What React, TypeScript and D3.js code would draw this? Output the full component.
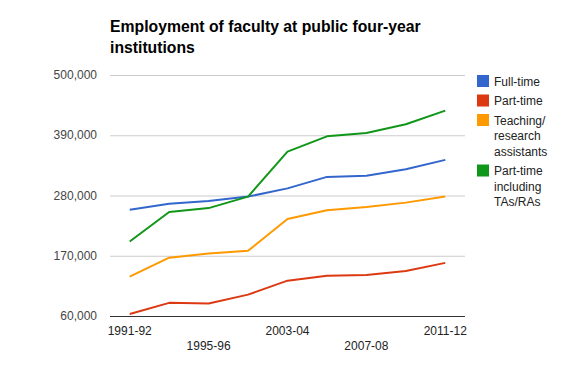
import React, { useEffect, useRef } from 'react';
import * as d3 from 'd3';

const years = ['1991-92', '1993-94', '1995-96', '1999-00', '2003-04', '2005-06', '2007-08', '2009-10', '2011-12'];
const fullTime = [254000, 265000, 270000, 278000, 293000, 314000, 316000, 328000, 345000];
const partTime = [63500, 84000, 83000, 99000, 124500, 133500, 135000, 142000, 157000];
const assistants = [132000, 166500, 174000, 179000, 237000, 253000, 259000, 267000, 278000];
const partTimeTAs = [196000, 250000, 257000, 278000, 360000, 388000, 394000, 410000, 435000];
const yTicks = [60000, 170000, 280000, 390000, 500000];
const shownYears = ['1991-92', '1995-96', '2003-04', '2007-08', '2011-12'];

const series = [
  { name: ['Full-time'], values: fullTime, color: '#3366cc' },
  { name: ['Part-time'], values: partTime, color: '#dc3912' },
  { name: ['Teaching/', 'research', 'assistants'], values: assistants, color: '#ff9900' },
  { name: ['Part-time', 'including', 'TAs/RAs'], values: partTimeTAs, color: '#109618' },
];

const font = '"Liberation Sans", Arial, sans-serif';

const App = () => {
  const svgRef = useRef(null);

  useEffect(() => {
    const svg = d3.select(svgRef.current);
    svg.selectAll('*').remove();

    const width = 575;
    const height = 392;
    const plot = { left: 110, right: 465, top: 75, bottom: 316 };

    svg.append('rect').attr('width', width).attr('height', height).attr('fill', '#fff');

    const x = d3.scaleBand().domain(years).range([plot.left, plot.right]);
    const cx = (d) => x(d) + x.bandwidth() / 2;
    const y = d3.scaleLinear().domain([60000, 500000]).range([plot.bottom, plot.top]);

    // title
    const title = svg.append('text')
      .attr('x', 110)
      .attr('font-family', font)
      .attr('font-size', '15.75px')
      .attr('font-weight', 'bold')
      .attr('fill', '#000');
    title.append('tspan').attr('x', 110).attr('y', 32).text('Employment of faculty at public four-year');
    title.append('tspan').attr('x', 110).attr('y', 53).text('institutions');

    // gridlines
    svg.append('g').selectAll('line')
      .data(yTicks.slice(1))
      .enter().append('line')
      .attr('x1', plot.left).attr('x2', plot.right)
      .attr('y1', d => y(d) + 0.5).attr('y2', d => y(d) + 0.5)
      .attr('stroke', '#cccccc');

    svg.append('line')
      .attr('x1', plot.left).attr('x2', plot.right)
      .attr('y1', y(60000) + 0.5).attr('y2', y(60000) + 0.5)
      .attr('stroke', '#333333');

    // y labels
    svg.append('g').selectAll('text')
      .data(yTicks)
      .enter().append('text')
      .attr('x', 97)
      .attr('y', d => y(d) + 4)
      .attr('text-anchor', 'end')
      .attr('font-family', font)
      .attr('font-size', '12px')
      .attr('fill', '#444')
      .text(d => d3.format(',')(d));

    // x labels
    svg.append('g').selectAll('text')
      .data(shownYears)
      .enter().append('text')
      .attr('x', d => cx(d))
      .attr('y', (d, i) => (i % 2 === 0 ? 335 : 350))
      .attr('text-anchor', 'middle')
      .attr('font-family', font)
      .attr('font-size', '12px')
      .attr('fill', '#222')
      .text(d => d);

    // lines
    const line = d3.line()
      .x((d, i) => cx(years[i]))
      .y(d => y(d));

    series.forEach(s => {
      svg.append('path')
        .datum(s.values)
        .attr('d', line)
        .attr('fill', 'none')
        .attr('stroke', s.color)
        .attr('stroke-width', 2)
        .attr('stroke-linejoin', 'round');
    });

    // legend
    let ly = 81;
    series.forEach(s => {
      const g = svg.append('g');
      g.append('rect')
        .attr('x', 477).attr('y', ly - 6)
        .attr('width', 12).attr('height', 12)
        .attr('fill', s.color);
      s.name.forEach((t, j) => {
        g.append('text')
          .attr('x', 494)
          .attr('y', ly + 4.5 + j * 15.5)
          .attr('font-family', font)
          .attr('font-size', '12px')
          .attr('fill', '#222')
          .text(t);
      });
      ly += 19.5 + (s.name.length - 1) * 15.5;
    });
  }, []);

  return (
    <svg ref={svgRef} width={575} height={392} style={{ position: 'absolute', left: 0, top: 0 }}></svg>
  );
};

export default App;
